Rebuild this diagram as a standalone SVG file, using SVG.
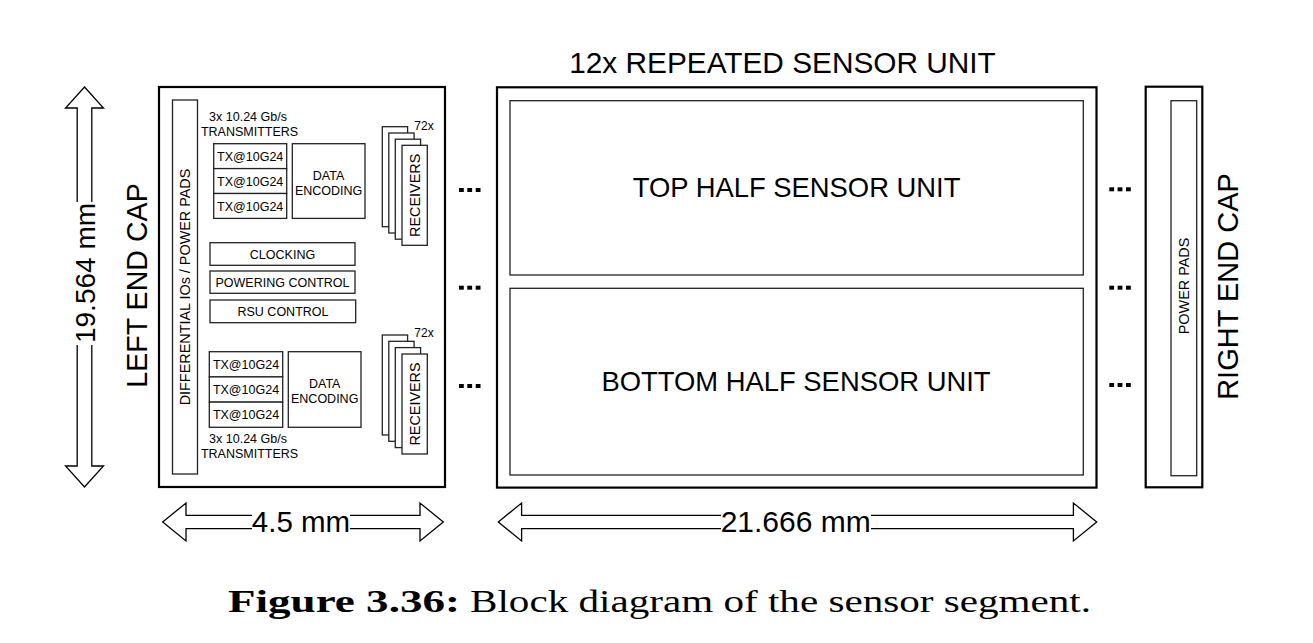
<svg xmlns="http://www.w3.org/2000/svg" width="1313" height="643" viewBox="0 0 1313 643">
<style>
text{font-family:"Liberation Sans",Arial,Helvetica,sans-serif;fill:#000}
.outer{fill:#fff;stroke:#000;stroke-width:2.2}
.inner{fill:#fff;stroke:#222;stroke-width:1.3}
.s{font-size:12.5px}
.r{font-size:12px}
.m{font-size:14.4px}
.c{text-anchor:middle}
.arrow{fill:#fff;stroke:#000;stroke-width:1.3;stroke-linejoin:miter}
.dot{fill:#000}
.cap{font-family:"Liberation Serif","Times New Roman",serif;font-size:32px}
</style>
<defs>
<g id="recv">
<rect class="inner" x="0" y="0" width="25.3" height="100"/>
<text class="m c" transform="translate(17.8,50) rotate(-90)">RECEIVERS</text>
</g>
</defs>
<rect width="1313" height="643" fill="#fff"/>

<g id="left-end-cap">
<rect class="outer" x="159" y="87" width="286" height="400"/>
<rect class="inner" x="172.5" y="100" width="25" height="374"/>
<text class="m c" transform="translate(190.2,287) rotate(-90)">DIFFERENTIAL IOs / POWER PADS</text>
<text class="s c" x="248" y="121">3x 10.24 Gb/s</text>
<text class="s c" x="249.5" y="135.5">TRANSMITTERS</text>
<rect class="inner" x="213.7" y="143.7" width="73" height="24.9"/>
<rect class="inner" x="213.7" y="168.6" width="73" height="24.9"/>
<rect class="inner" x="213.7" y="193.5" width="73" height="24.9"/>
<text class="s c" x="250.2" y="160.7">TX@10G24</text>
<text class="s c" x="250.2" y="185.6">TX@10G24</text>
<text class="s c" x="250.2" y="210.5">TX@10G24</text>
<rect class="inner" x="292.3" y="143.7" width="72.7" height="74.7"/>
<text class="s c" x="328.6" y="180">DATA</text>
<text class="s c" x="328.6" y="195">ENCODING</text>
<use href="#recv" x="382.3" y="126.7"/>
<use href="#recv" x="388.8" y="133"/>
<use href="#recv" x="395.3" y="139.2"/>
<use href="#recv" x="402" y="145.3"/>
<text class="r" x="414.3" y="130">72x</text>
<rect class="inner" x="210" y="242.7" width="145" height="22.6"/>
<text class="s c" x="282.5" y="258.7">CLOCKING</text>
<rect class="inner" x="210" y="271" width="145" height="22.3"/>
<text class="s c" x="282.5" y="286.8">POWERING CONTROL</text>
<rect class="inner" x="210" y="300" width="145.7" height="22.7"/>
<text class="s c" x="283" y="316">RSU CONTROL</text>
<rect class="inner" x="209.3" y="351.7" width="73.4" height="25.2"/>
<rect class="inner" x="209.3" y="376.9" width="73.4" height="25.2"/>
<rect class="inner" x="209.3" y="402.1" width="73.4" height="25.2"/>
<text class="s c" x="246" y="368.8">TX@10G24</text>
<text class="s c" x="246" y="394">TX@10G24</text>
<text class="s c" x="246" y="419.2">TX@10G24</text>
<rect class="inner" x="288.3" y="351.7" width="72.7" height="75.6"/>
<text class="s c" x="324.7" y="388.4">DATA</text>
<text class="s c" x="324.7" y="402.7">ENCODING</text>
<text class="s c" x="248" y="442.7">3x 10.24 Gb/s</text>
<text class="s c" x="249.5" y="457.5">TRANSMITTERS</text>
<use href="#recv" x="382.3" y="335"/>
<use href="#recv" x="388.8" y="341.3"/>
<use href="#recv" x="395.3" y="347.6"/>
<use href="#recv" x="402" y="354"/>
<text class="r" x="414.3" y="337.3">72x</text>
<text style="font-size:28.6px" class="c" transform="translate(146.7,285.5) rotate(-90)">LEFT END CAP</text>
</g>

<g id="sensor-unit">
<text class="c" style="font-size:29.8px" x="782.5" y="73.3">12x REPEATED SENSOR UNIT</text>
<rect class="outer" x="497" y="87.3" width="599.5" height="400.3"/>
<g id="top-half">
<rect class="inner" x="510" y="100.7" width="573.3" height="174.3"/>
<text class="c" style="font-size:27.4px" x="796.6" y="197.3">TOP HALF SENSOR UNIT</text>
</g>
<g id="bottom-half">
<rect class="inner" x="510" y="288.3" width="573.3" height="186.7"/>
<text class="c" style="font-size:27.4px" x="796" y="391">BOTTOM HALF SENSOR UNIT</text>
</g>
</g>

<g id="right-end-cap">
<rect class="outer" x="1145.7" y="86.7" width="56.6" height="400.6"/>
<rect class="inner" x="1171" y="100.7" width="25.7" height="375"/>
<text class="m c" transform="translate(1189.3,286) rotate(-90)">POWER PADS</text>
<text class="c" style="font-size:29px" transform="translate(1238.3,286.5) rotate(-90)">RIGHT END CAP</text>
</g>

<g id="continuation-dots">
<rect class="dot" x="459" y="188" width="4.8" height="4"/>
<rect class="dot" x="467.3" y="188" width="4.8" height="4"/>
<rect class="dot" x="475.7" y="188" width="4.8" height="4"/>
<rect class="dot" x="459" y="285.7" width="4.8" height="4"/>
<rect class="dot" x="467.3" y="285.7" width="4.8" height="4"/>
<rect class="dot" x="475.7" y="285.7" width="4.8" height="4"/>
<rect class="dot" x="459" y="384" width="4.8" height="4"/>
<rect class="dot" x="467.3" y="384" width="4.8" height="4"/>
<rect class="dot" x="475.7" y="384" width="4.8" height="4"/>
<rect class="dot" x="1109.3" y="187.3" width="4.8" height="4"/>
<rect class="dot" x="1117.6" y="187.3" width="4.8" height="4"/>
<rect class="dot" x="1126" y="187.3" width="4.8" height="4"/>
<rect class="dot" x="1109.3" y="285.7" width="4.8" height="4"/>
<rect class="dot" x="1117.6" y="285.7" width="4.8" height="4"/>
<rect class="dot" x="1126" y="285.7" width="4.8" height="4"/>
<rect class="dot" x="1109.3" y="383" width="4.8" height="4"/>
<rect class="dot" x="1117.6" y="383" width="4.8" height="4"/>
<rect class="dot" x="1126" y="383" width="4.8" height="4"/>
</g>

<g id="connectors">
<polygon class="arrow" points="84.5,87 103.5,108 91.8,108 91.8,466 103.5,466 84.5,487 65.5,466 77.2,466 77.2,108 65.5,108"/>
<rect x="72" y="202" width="24" height="143" fill="#fff"/>
<text class="c" style="font-size:28px" transform="translate(94.5,273) rotate(-90)">19.564 mm</text>
<polygon class="arrow" points="162.7,522 186,503 186,515.3 420,515.3 420,503 443.3,522 420,541 420,528.7 186,528.7 186,541"/>
<rect x="252" y="508" width="98" height="28" fill="#fff"/>
<text class="c" style="font-size:29.5px" x="301" y="531.7">4.5 mm</text>
<polygon class="arrow" points="498.3,522 521.6,503 521.6,515.3 1073.4,515.3 1073.4,503 1096.7,522 1073.4,541 1073.4,528.7 521.6,528.7 521.6,541"/>
<rect x="721" y="508" width="150" height="28" fill="#fff"/>
<text class="c" style="font-size:30px" x="795.7" y="532">21.666 mm</text>
</g>

<g id="caption">
<text class="cap" x="228" y="612" font-weight="bold" textLength="232" lengthAdjust="spacingAndGlyphs">Figure 3.36:</text>
<text class="cap" x="470" y="612" textLength="621" lengthAdjust="spacingAndGlyphs">Block diagram of the sensor segment.</text>
</g>
</svg>
